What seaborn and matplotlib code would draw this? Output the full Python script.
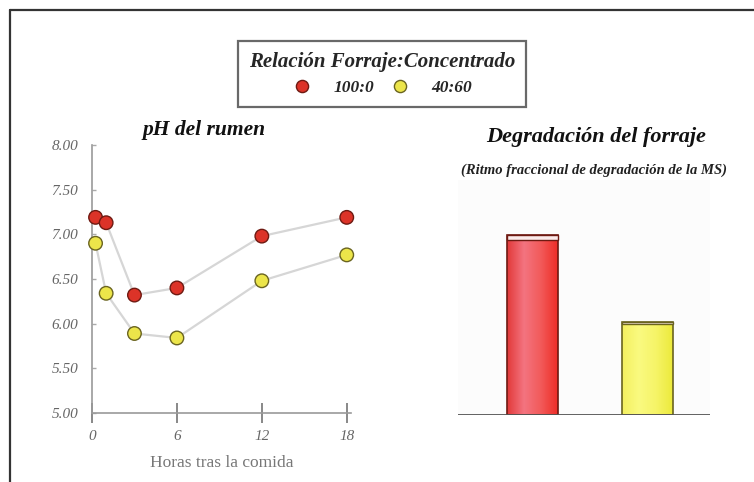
import numpy as np
import pandas as pd
import matplotlib
matplotlib.use("Agg")
import matplotlib.pyplot as plt
from matplotlib.lines import Line2D
from matplotlib.colors import LinearSegmentedColormap
import seaborn as sns

# ---- data -------------------------------------------------------------
horas = [0.25, 1, 3, 6, 12, 18]
ph_100_0 = [7.19, 7.13, 6.32, 6.40, 6.98, 7.19]
ph_40_60 = [6.90, 6.34, 5.89, 5.84, 6.48, 6.77]
tratamientos = ["100:0", "40:60"]
degradacion = [0.062, 0.032]
x_ticks = [0, 6, 12, 18]
y_ticks = [5.0, 5.5, 6.0, 6.5, 7.0, 7.5, 8.0]

# ---- style ------------------------------------------------------------
sns.set_theme(style="white")
plt.rcParams["font.family"] = ["Liberation Serif", "DejaVu Serif"]

rojo, rojo_borde = "#dc3328", "#6e1a12"
amarillo, amarillo_borde = "#ece54a", "#6a6420"
colores = {"100:0": rojo, "40:60": amarillo}
bordes = [rojo_borde, amarillo_borde]

W, H = 754, 482
fig = plt.figure(figsize=(W / 100, H / 100), dpi=100)
fig.patch.set_facecolor("white")

def fx(px):
    return px / W

def fy(py):
    return 1 - py / H

# ---- pH del rumen -----------------------------------------------------
df = pd.DataFrame({
    "Horas": horas * 2,
    "pH": ph_100_0 + ph_40_60,
    "Relación": [tratamientos[0]] * len(horas) + [tratamientos[1]] * len(horas),
})

ax1 = fig.add_axes([fx(92), fy(413), fx(351 - 92), (413 - 145) / H])
sns.lineplot(data=df, x="Horas", y="pH", units="Relación", estimator=None,
             color="#d6d6d6", linewidth=1.6, ax=ax1, legend=False, zorder=1)
sns.scatterplot(data=df, x="Horas", y="pH", hue="Relación",
                palette=colores, s=95, linewidth=1.0, ax=ax1, zorder=3,
                clip_on=False)
pts = ax1.collections[-1]
pts.set_edgecolors([rojo_borde if r == "100:0" else amarillo_borde
                    for r in df["Relación"]])

handles, labels = ax1.get_legend_handles_labels()
ax1.get_legend().remove()

ax1.set_xlim(0, 18.3)
ax1.set_ylim(5.0, 8.0)
ax1.set_xticks(x_ticks)
ax1.set_yticks(y_ticks)
ax1.set_yticklabels([f"{v:.2f}" for v in y_ticks])
ax1.set_xticklabels([str(v) for v in x_ticks])
for lab in ax1.get_xticklabels() + ax1.get_yticklabels():
    lab.set_fontstyle("italic")
    lab.set_color("#666666")
    lab.set_fontsize(11)
ax1.tick_params(axis="x", direction="inout", length=14, width=1.4,
                color="#888888", pad=5, bottom=True)
ax1.tick_params(axis="y", direction="in", length=3, width=1,
                color="#aaaaaa", pad=10, left=True)
ax1.set_xlabel("Horas tras la comida", fontsize=12.5, color="#777777",
               labelpad=9)
ax1.set_ylabel("")
for s in ["top", "right"]:
    ax1.spines[s].set_visible(False)
for s in ["left", "bottom"]:
    ax1.spines[s].set_color("#9a9a9a")
    ax1.spines[s].set_linewidth(1.2)
ax1.patch.set_alpha(0)

fig.text(fx(204), fy(130), "pH del rumen", ha="center", va="center",
         fontsize=15.5, fontweight="bold", fontstyle="italic", color="#111111")

# ---- Degradación del forraje ------------------------------------------
dfb = pd.DataFrame({"Relación": tratamientos, "Degradación": degradacion})
ax2 = fig.add_axes([fx(458), fy(415), fx(710 - 458), (415 - 180) / H])
sns.barplot(data=dfb, x="Relación", y="Degradación", hue="Relación",
            palette=colores, width=0.443, linewidth=1.2, edgecolor="#5a3030",
            ax=ax2, legend=False, zorder=2)
ax2.set_xlim(-0.648, 1.548)
ax2.set_ylim(0, 0.081)

# shaded faces on the bars
sombras = [
    LinearSegmentedColormap.from_list("r", ["#e23a3a", "#f47480", "#f25a5a", "#ee2e28"]),
    LinearSegmentedColormap.from_list("a", ["#f4f060", "#fafa80", "#f6f468", "#ecea3c"]),
]
for patch, cmap, borde in list(zip(ax2.patches, sombras, bordes)):
    x0, y0 = patch.get_x(), patch.get_y()
    w, h = patch.get_width(), patch.get_height()
    grad = np.linspace(0, 1, 64).reshape(1, -1)
    im = ax2.imshow(grad, cmap=cmap, aspect="auto",
                    extent=(x0, x0 + w, y0, y0 + h), zorder=2.5)
    im.set_clip_path(patch)
    patch.set_edgecolor(borde)
    patch.set_facecolor("none")
    patch.set_zorder(3)
    # light cap on top of each bar
    ax2.bar(x0 + w / 2, h * 0.025, bottom=y0 + h * 0.975, width=w,
            color="#fbeaea", edgecolor=borde, linewidth=1.0, zorder=4)

ax2.axhline(0, color="#555555", linewidth=1.3, zorder=5)
ax2.set_xlim(-0.648, 1.548)
ax2.set_ylim(0, 0.081)
ax2.set_xticks([])
ax2.set_yticks([])
ax2.set_xlabel("")
ax2.set_ylabel("")
for s in ax2.spines.values():
    s.set_visible(False)
ax2.set_facecolor("#fcfcfc")

fig.text(fx(596), fy(137), "Degradación del forraje", ha="center", va="center",
         fontsize=16, fontweight="bold", fontstyle="italic", color="#111111")
fig.text(fx(594), fy(170), "(Ritmo fraccional de degradación de la MS)",
         ha="center", va="center", fontsize=10.5, fontweight="bold",
         fontstyle="italic", color="#222222")

# ---- legend ------------------------------------------------------------
for hnd, borde in zip(handles, bordes):
    if hasattr(hnd, "set_markeredgecolor"):
        hnd.set_markeredgecolor(borde)
leg = fig.legend(handles, labels, ncol=2, loc="center",
                 bbox_to_anchor=(fx(382), fy(74)),
                 title="Relación Forraje:Concentrado",
                 frameon=True, fancybox=False, markerscale=0.9,
                 handlelength=1.2, handletextpad=1.2, columnspacing=0.9,
                 borderpad=0.6, borderaxespad=0,
                 prop={"weight": "bold", "style": "italic", "size": 12.5})
leg.get_title().set_fontweight("bold")
leg.get_title().set_fontstyle("italic")
leg.get_title().set_fontsize(15)
frame = leg.get_frame()
frame.set_edgecolor("#444444")
frame.set_linewidth(1.6)

# ---- frame lines ------------------------------------------------------
fig.add_artist(Line2D([fx(10), 1], [fy(10), fy(10)], color="#333333",
                      linewidth=1.6, transform=fig.transFigure))
fig.add_artist(Line2D([fx(10), fx(10)], [0, fy(10)], color="#333333",
                      linewidth=1.6, transform=fig.transFigure))

fig.savefig("out.png", dpi=100, facecolor="white")
